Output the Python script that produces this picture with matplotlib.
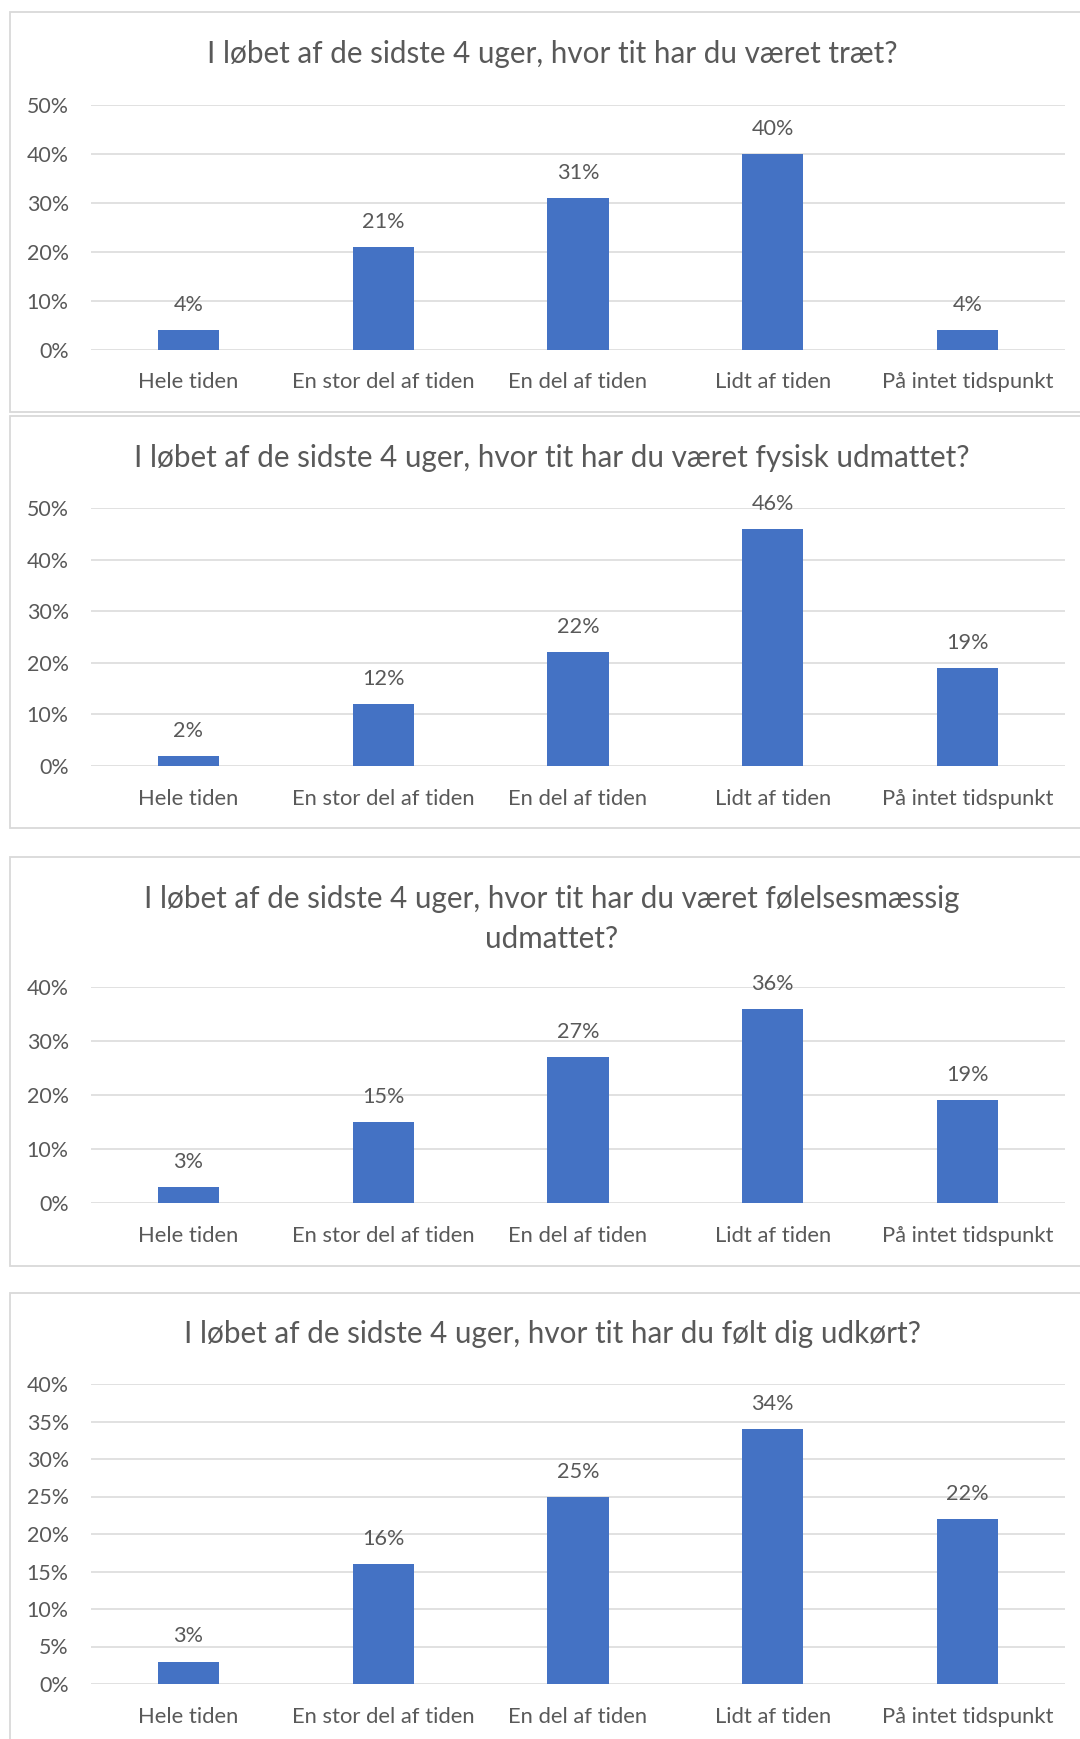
import matplotlib
matplotlib.use("Agg")
import matplotlib.pyplot as plt
from matplotlib.patches import Rectangle
from matplotlib.ticker import FuncFormatter, MultipleLocator

plt.rcParams['font.family'] = ['Lato', 'DejaVu Sans']

categories = ["Hele tiden", "En stor del af tiden", "En del af tiden", "Lidt af tiden", "På intet tidspunkt"]

titles = [
    "I løbet af de sidste 4 uger, hvor tit har du været træt?",
    "I løbet af de sidste 4 uger, hvor tit har du været fysisk udmattet?",
    "I løbet af de sidste 4 uger, hvor tit har du været følelsesmæssig\nudmattet?",
    "I løbet af de sidste 4 uger, hvor tit har du følt dig udkørt?",
]

values_traet = [4, 21, 31, 40, 4]
values_fysisk = [2, 12, 22, 46, 19]
values_foelelse = [3, 15, 27, 36, 19]
values_udkoert = [3, 16, 25, 34, 22]
series = [values_traet, values_fysisk, values_foelelse, values_udkoert]

y_max = [50, 50, 40, 40]
y_step = [10, 10, 10, 5]

W, H = 1080, 1739
fig = plt.figure(figsize=(W / 100, H / 100), dpi=100)
fig.patch.set_facecolor("white")

TEXT = "#595959"
GRID = "#D9D9D9"
BAR = "#4472C4"

# layout in pixels (top-based)
panels = [(12, 412), (416, 828), (857, 1266), (1293, 1760)]
axes_px = [(104.7, 349.5), (508, 766), (987, 1203), (1384, 1684)]
title_px = [54, 458, 919, 1334]
ax_left, ax_right = 91, 1065

for i in range(4):
    pt, pb = panels[i]
    rect = Rectangle((10 / W, 1 - pb / H), (1200) / W, (pb - pt) / H,
                     transform=fig.transFigure, facecolor="white",
                     edgecolor=GRID, linewidth=1.3, zorder=-5, clip_on=False)
    fig.patches.append(rect)

    at, ab = axes_px[i]
    ax = fig.add_axes([ax_left / W, 1 - ab / H, (ax_right - ax_left) / W, (ab - at) / H])
    ax.set_zorder(2)
    ax.set_facecolor("none")
    x = list(range(len(categories)))
    ax.bar(x, series[i], width=0.315, color=BAR, zorder=3)
    ax.set_xlim(-0.5, len(categories) - 0.5)
    ax.set_ylim(0, y_max[i])
    ax.yaxis.set_major_locator(MultipleLocator(y_step[i]))
    ax.yaxis.set_major_formatter(FuncFormatter(lambda v, p: f"{v:.0f}%"))
    ax.grid(axis="y", color=GRID, linewidth=1.1, zorder=0)
    ax.set_axisbelow(True)
    for s in ax.spines.values():
        s.set_visible(False)
    ax.set_xticks(x)
    ax.set_xticklabels(categories)
    ax.tick_params(axis="both", length=0, colors=TEXT)
    ax.tick_params(axis="x", pad=16.5, labelsize=15.8)
    ax.tick_params(axis="y", pad=16, labelsize=15.4)
    for xi, v in zip(x, series[i]):
        ax.annotate(f"{v}%", (xi, v), xytext=(0, 18), textcoords="offset points",
                    ha="center", va="center", fontsize=15.6, color=TEXT)

    fig.text(552 / W, 1 - title_px[i] / H, titles[i], ha="center", va="center",
             fontsize=21.3, color=TEXT, linespacing=1.55, zorder=3)

fig.savefig("out.png", dpi=100, facecolor="white")
